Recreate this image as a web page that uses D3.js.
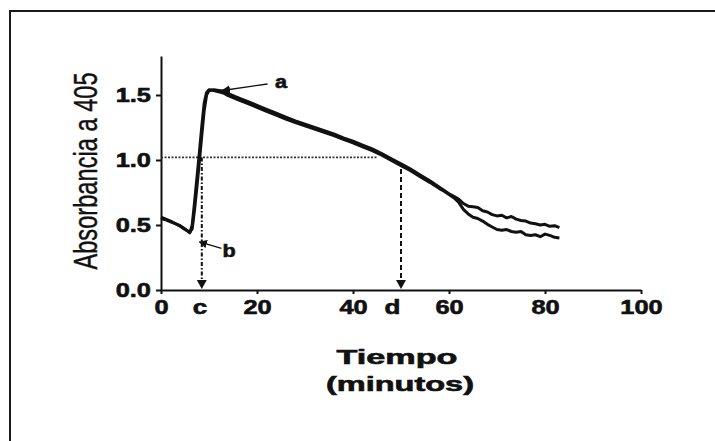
<!DOCTYPE html>
<html>
<head>
<meta charset="utf-8">
<script src="https://cdn.jsdelivr.net/npm/d3@7"></script>
<style>
  html, body { margin: 0; padding: 0; background: #fff; }
  svg { display: block; }
  text { font-family: "Liberation Sans", Arial, Helvetica, sans-serif; fill: #111; }
</style>
</head>
<body>
<svg id="chart" width="715" height="441"></svg>
<script>
// Time axis (minutes) shared by both absorbance traces
const time = [0, 1, 2, 3, 4, 5, 6, 6.5, 7, 7.5, 8, 8.5, 9, 9.5, 10, 11, 12, 13, 14, 16, 18, 20, 22, 24, 26, 28, 30, 32, 34, 36, 38, 40, 42, 44, 46, 48, 50, 52, 54, 56, 58, 59, 60, 61, 62, 63, 64, 65, 66, 67, 68, 69, 70, 71, 72, 73, 74, 75, 76, 77, 78, 79, 80, 81, 82, 83];

// Absorbance at 405 nm, trace 1 (upper tail)
const absorbance1 = [0.55, 0.54, 0.525, 0.51, 0.49, 0.465, 0.445, 0.47, 0.62, 0.80, 0.99, 1.19, 1.38, 1.50, 1.535, 1.54, 1.535, 1.53, 1.51, 1.48, 1.45, 1.42, 1.39, 1.36, 1.33, 1.30, 1.275, 1.25, 1.225, 1.20, 1.17, 1.145, 1.115, 1.085, 1.05, 1.01, 0.97, 0.93, 0.885, 0.84, 0.79, 0.765, 0.74, 0.72, 0.70, 0.665, 0.645, 0.64, 0.635, 0.61, 0.60, 0.58, 0.57, 0.575, 0.555, 0.565, 0.545, 0.535, 0.53, 0.515, 0.51, 0.50, 0.505, 0.49, 0.495, 0.48];

// Absorbance at 405 nm, trace 2 (lower tail)
const absorbance2 = [0.56, 0.545, 0.53, 0.51, 0.495, 0.47, 0.44, 0.50, 0.68, 0.87, 1.06, 1.26, 1.44, 1.52, 1.54, 1.535, 1.525, 1.515, 1.495, 1.465, 1.435, 1.405, 1.375, 1.345, 1.315, 1.288, 1.262, 1.237, 1.212, 1.187, 1.158, 1.132, 1.102, 1.072, 1.037, 0.997, 0.957, 0.917, 0.872, 0.828, 0.78, 0.76, 0.735, 0.71, 0.675, 0.62, 0.585, 0.56, 0.55, 0.53, 0.505, 0.485, 0.465, 0.46, 0.465, 0.45, 0.445, 0.45, 0.425, 0.42, 0.425, 0.41, 0.43, 0.42, 0.405, 0.40];

// Axis ticks
const xTicks = [0, 20, 40, 60, 80, 100];
const yTicks = [0, 0.5, 1.0, 1.5];

// Reference marks: c = start time, d = end time, level of the dotted guide, a/b labels
const markC = 8.5;
const markD = 50;
const guideLevel = 1.02;
const guideEnd = 45;
const labelA = { text: "a", t: 25, v: 1.60, from: [22.2, 1.585], to: [12.8, 1.535] };
const labelB = { text: "b", t: 14.2, v: 0.30, from: [12.6, 0.32], to: [8.0, 0.37] };

const svg = d3.select("#chart");
const ink = "#111";

// Figure frame (top and left edges)
svg.append("path")
  .attr("d", "M10,441 V11 H715")
  .attr("fill", "none").attr("stroke", "#1a1a1a").attr("stroke-width", 2);

const x = d3.scaleLinear().domain([0, 100]).range([161, 641]);
const y = d3.scaleLinear().domain([0, 1.8]).range([290, 56]);

// Stretch text horizontally by a factor, preserving its anchor
function stretch(sel, k) {
  sel.each(function () {
    const w = this.getComputedTextLength();
    d3.select(this).attr("textLength", w * k).attr("lengthAdjust", "spacingAndGlyphs");
  });
}

// Heavy bold look for labels
function heavy(sel, w) {
  sel.attr("stroke", ink).attr("stroke-width", w).attr("paint-order", "stroke");
}

// Y axis
const yAxis = svg.append("g")
  .attr("transform", `translate(${x(0)},0)`)
  .call(d3.axisLeft(y).tickValues(yTicks).tickFormat(d3.format(".1f"))
    .tickSize(5).tickSizeOuter(0).tickPadding(5));
yAxis.select(".domain").attr("stroke", ink).attr("stroke-width", 2);
yAxis.selectAll(".tick line").attr("stroke", ink).attr("stroke-width", 2);
yAxis.selectAll(".tick text")
  .attr("font-size", 20).attr("font-weight", "bold").attr("fill", ink)
  .style("font-family", '"Liberation Sans", Arial, sans-serif')
  .call(stretch, 1.27).call(heavy, 0.6);

// X axis
const xAxis = svg.append("g")
  .attr("transform", `translate(0,${y(0)})`)
  .call(d3.axisBottom(x).tickValues(xTicks).tickFormat(d3.format("d"))
    .tickSize(4).tickSizeOuter(0).tickPadding(6));
xAxis.select(".domain").attr("stroke", ink).attr("stroke-width", 2);
xAxis.selectAll(".tick line").attr("stroke", ink).attr("stroke-width", 2);
xAxis.selectAll(".tick text")
  .attr("font-size", 20).attr("font-weight", "bold").attr("fill", ink)
  .style("font-family", '"Liberation Sans", Arial, sans-serif')
  .call(stretch, 1.27).call(heavy, 0.6);

// c / d labels on the time axis
svg.selectAll("text.mark")
  .data([{ t: markC - 0.4, s: "c" }, { t: markD - 1.8, s: "d" }])
  .join("text")
  .attr("class", "mark")
  .attr("x", d => x(d.t)).attr("y", y(0) + 24)
  .attr("text-anchor", "middle")
  .attr("font-size", 20).attr("font-weight", "bold")
  .text(d => d.s)
  .call(stretch, 1.3).call(heavy, 0.6);

// Dotted guide at the reference absorbance
svg.append("line")
  .attr("x1", x(0)).attr("x2", x(guideEnd))
  .attr("y1", y(guideLevel)).attr("y2", y(guideLevel))
  .attr("stroke", "#333").attr("stroke-width", 1.6)
  .attr("stroke-dasharray", "2,1.5");

// Vertical drop arrows to c and d
function dropArrow(t, top, dash) {
  svg.append("line")
    .attr("x1", x(t)).attr("x2", x(t))
    .attr("y1", y(top)).attr("y2", y(0) - 6)
    .attr("stroke", ink).attr("stroke-width", 2)
    .attr("stroke-dasharray", dash);
  const px = x(t), py = y(0) - 1;
  svg.append("path")
    .attr("d", `M${px - 5},${py - 9} L${px + 5},${py - 9} L${px},${py} Z`)
    .attr("fill", ink);
}
dropArrow(markC, guideLevel, "4,2,1.5,2");
dropArrow(markD, 0.93, "5,3");

// Absorbance traces
const line = d3.line()
  .x((d, i) => x(time[i]))
  .y(d => y(d))
  .curve(d3.curveLinear);

[absorbance1, absorbance2].forEach(series => {
  svg.append("path")
    .datum(series)
    .attr("d", line)
    .attr("fill", "none")
    .attr("stroke", ink)
    .attr("stroke-width", 3)
    .attr("stroke-linejoin", "round");
});

// Leader lines with small arrowheads for labels a and b
const defs = svg.append("defs");
defs.append("marker")
  .attr("id", "head")
  .attr("viewBox", "0 0 10 10")
  .attr("refX", 9).attr("refY", 5)
  .attr("markerWidth", 6).attr("markerHeight", 6)
  .attr("orient", "auto")
  .append("path").attr("d", "M0,0 L10,5 L0,10 Z").attr("fill", ink);

[labelA, labelB].forEach(l => {
  svg.append("line")
    .attr("x1", x(l.from[0])).attr("y1", y(l.from[1]))
    .attr("x2", x(l.to[0])).attr("y2", y(l.to[1]))
    .attr("stroke", ink).attr("stroke-width", 1.4)
    .attr("marker-end", "url(#head)");
  svg.append("text")
    .attr("x", x(l.t)).attr("y", y(l.v))
    .attr("dy", "0.35em")
    .attr("text-anchor", "middle")
    .attr("font-size", 18).attr("font-weight", "bold")
    .text(l.text)
    .call(stretch, 1.2).call(heavy, 0.6);
});

// Axis titles (the vertical title uses tall, narrow glyphs)
svg.append("text")
  .attr("transform", `translate(97,171) rotate(-90) scale(0.985,1.4)`)
  .attr("text-anchor", "middle")
  .attr("font-size", 24)
  .text("Absorbancia a 405")
  .call(heavy, 0.3);

svg.append("text")
  .attr("x", 397).attr("y", 364)
  .attr("text-anchor", "middle")
  .attr("font-size", 20).attr("font-weight", "bold")
  .text("Tiempo")
  .attr("textLength", 121).attr("lengthAdjust", "spacingAndGlyphs")
  .call(heavy, 0.6);

svg.append("text")
  .attr("x", 400).attr("y", 391)
  .attr("text-anchor", "middle")
  .attr("font-size", 20).attr("font-weight", "bold")
  .text("(minutos)")
  .attr("textLength", 148).attr("lengthAdjust", "spacingAndGlyphs")
  .call(heavy, 0.6);
</script>
</body>
</html>
